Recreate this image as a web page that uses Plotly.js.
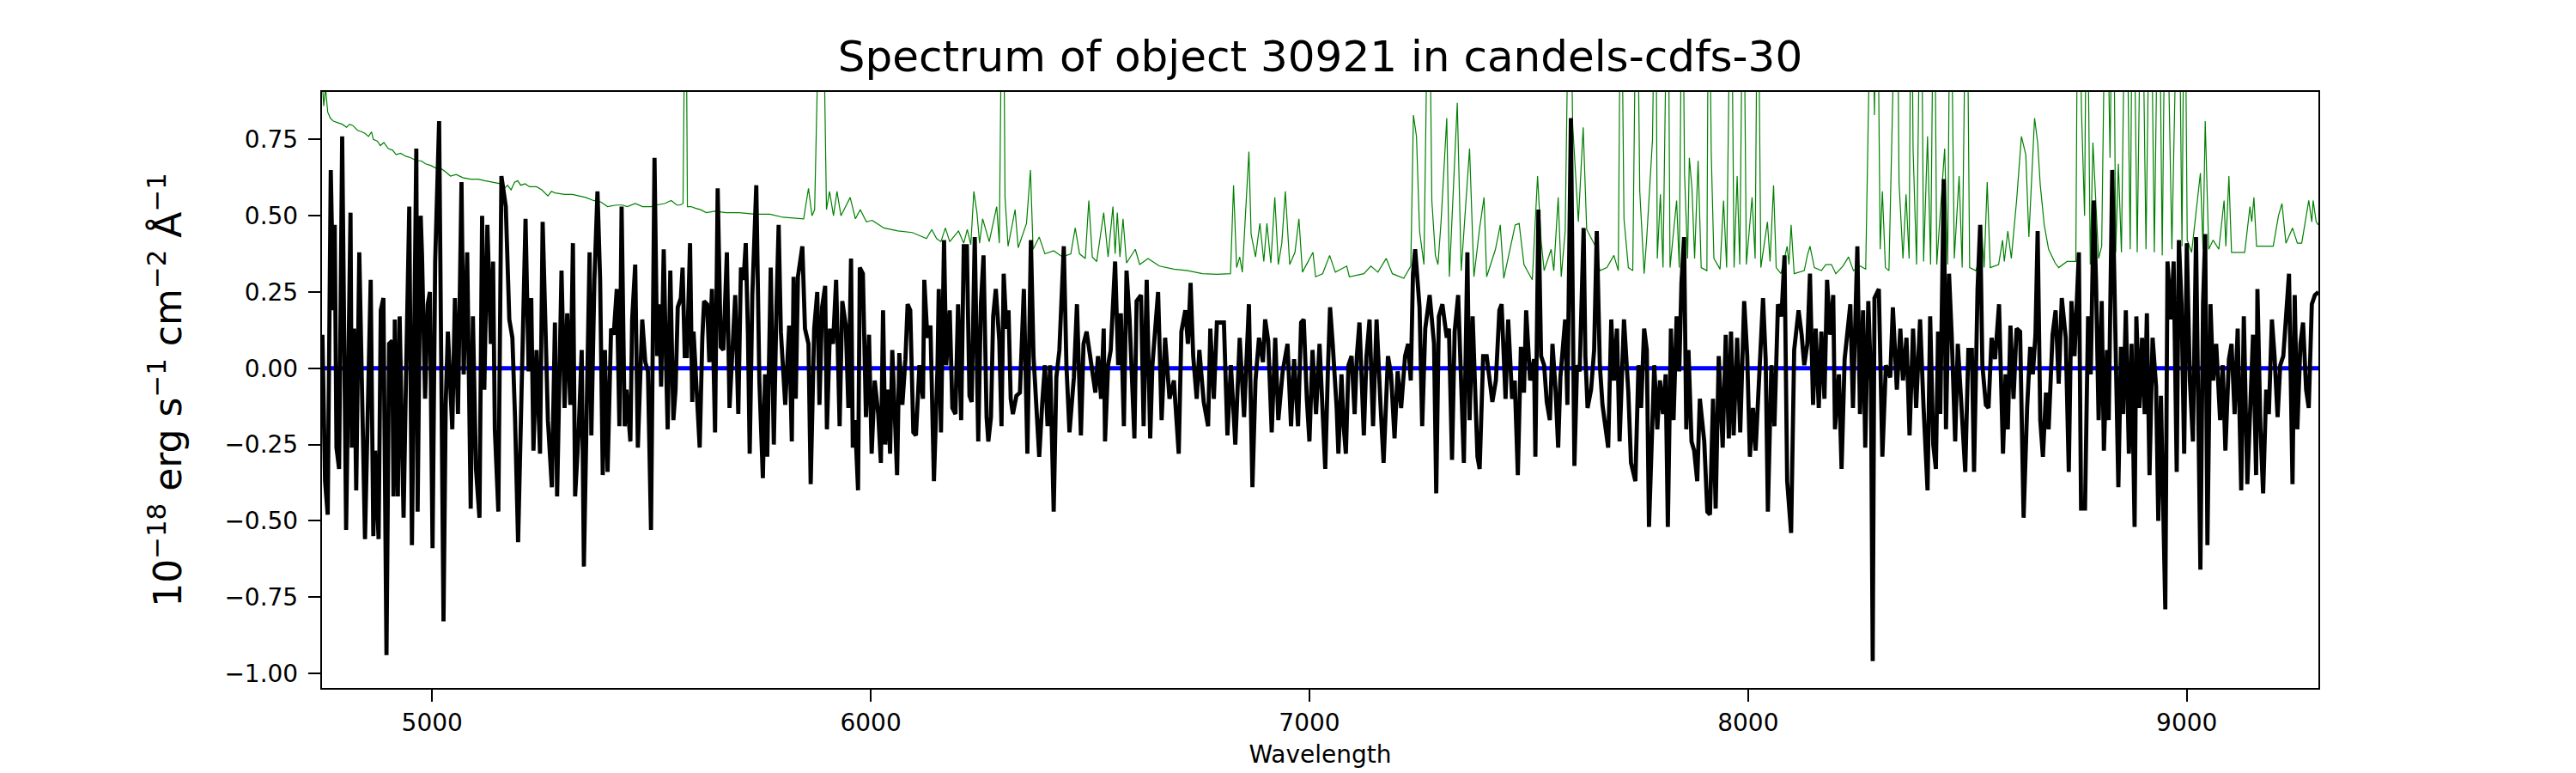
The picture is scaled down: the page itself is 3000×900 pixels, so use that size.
<!DOCTYPE html>
<html>
<head>
<meta charset="utf-8">
<script src="https://cdn.plot.ly/plotly-3.0.1.min.js"></script>
<style>
  html, body { margin: 0; padding: 0; background: #fff; }
  #spec { width: 3000px; height: 900px; }
</style>
</head>
<body>
<div id="spec"></div>
<script>
var blackWave = [
  4750,4756,4762,4769,4775,4778,4782,4788,4795,4804,
  4814,4817,4822,4827,4834,4840,4847,4860,4866,4870,
  4878,4883,4889,4896,4902,4909,4912,4915,4922,4926,
  4935,4941,4948,4954,4964,4967,4974,4977,4984,4990,
  4995,5001,5007,5016,5026,5031,5036,5046,5052,5059,
  5067,5072,5080,5088,5093,5100,5108,5114,5119,5126,
  5134,5139,5143,5151,5158,5168,5176,5183,5189,5196,
  5202,5213,5220,5226,5231,5238,5246,5252,5258,5264,
  5273,5280,5285,5295,5302,5308,5315,5321,5326,5334,
  5341,5346,5359,5363,5370,5377,5383,5389,5394,5400,
  5408,5414,5421,5427,5432,5439,5443,5452,5456,5463,
  5469,5479,5486,5492,5499,5507,
  5513,5518,5522,5528,5533,5537,5543,5550,5555,5560,
  5567,5571,5576,5581,5588,5593,5596,5601,5606,5610,
  5616,5620,5627,5632,5638,5645,5651,5658,5664,5672,
  5678,5683,5691,5698,5704,5710,5715,5720,5724,5730,
  5739,5746,5754,5759,5764,5772,5779,5785,5790,5795,
  5805,5814,5820,5824,5829,5834,5844,5850,5858,5863,
  5871,5878,5883,5889,5896,5900,5907,5914,5921,5929,
  5935,5943,5949,5955,5959,5964,5971,5975,5982,5989,
  5996,6002,6009,6017,6023,6028,6033,6039,6044,6049,
  6056,6060,6065,6072,6079,6084,6090,6097,6103,6111,
  6119,6122,6129,6136,6144,6152,6155,6160,6167,6172,
  6180,6186,6193,6199,6206,6212,6219,6225,6230,6237,
  6245,6251,6257,6264,6268,
  6274,6279,6285,6293,6298,6303,6309,6314,6319,6324,
  6332,6340,6349,6357,6365,6371,6378,6384,6391,6397,
  6403,6409,6417,6423,6430,6440,6446,6453,6463,6470,
  6479,6485,6492,6502,6512,6518,6525,6531,6534,6541,
  6547,6557,6564,6570,6577,6583,6590,6601,6606,6616,
  6622,6629,6637,6642,6648,6655,6663,6671,6681,6691,
  6702,6708,6717,6723,6729,6735,6743,6749,6759,6769,
  6774,6782,6789,6796,6805,6813,6821,6831,6841,6851,
  6862,6870,6877,6885,6894,6899,6906,6914,6922,6929,
  6939,6950,6958,6965,6974,6981,6987,6994,7000,7007,
  7015,7023,
  7036,7042,7047,7053,7062,7066,7073,7078,7083,7089,
  7096,7103,7108,7114,7124,7130,7137,7145,7153,7162,
  7169,7179,7186,7194,7201,7209,7218,7225,7231,7236,
  7241,7251,7257,7264,7274,7284,7289,7295,7303,7313,
  7318,7325,7331,7339,7344,7352,7360,7365,7372,7378,
  7383,7388,7396,7404,7412,7417,7425,7433,7438,7447,
  7453,7462,7468,7475,7482,7489,7494,7503,7512,7515,
  7522,7528,7535,7541,7548,7554,7561,7567,7572,7583,
  7588,7596,7604,7610,7616,7625,7629,7634,7642,7649,
  7655,7662,7668,7675,7681,7688,7694,7701,7707,7717,
  7727,7733,7743,7750,7756,7763,7769,7774,7782,
  7786,7793,7799,7806,7812,7817,7824,7830,7837,7843,
  7848,7854,7859,7864,7871,7877,7884,7890,7900,7907,
  7913,7920,7926,7933,7942,7949,7956,7961,7967,7975,
  7982,7991,7998,8004,8011,8017,8024,8034,8040,8045,
  8053,8060,8068,8076,8083,8089,8098,8105,8115,8122,
  8128,8135,8141,8148,8154,8161,8167,8174,8180,8187,
  8194,8198,8207,8213,8220,8233,8239,8249,8255,8262,
  8267,8274,8280,8284,8288,8298,8306,8314,8324,8330,
  8339,8347,8353,8361,8368,8376,8383,8392,8400,8409,
  8415,8422,8428,8433,8438,8446,8451,8458,8464,8472,
  8478,8487,8495,8502,8510,8515,8523,8529,8534,8542,
  8548,8555,8563,8572,8581,8587,8592,8598,8605,8612,
  8620,8628,8636,8643,8649,8655,8660,8666,8672,8679,
  8685,8694,8701,8708,8715,8724,8731,8737,8744,8754,
  8759,8768,8775,8781,8788,8793,8799,8806,8811,8818,
  8822,8830,8838,8844,8850,8855,8861,8868,8874,8881,
  8885,8892,8898,8904,8909,8915,8922,8930,8935,8941,
  8951,8956,8964,8970,8977,8982,8988,8994,9000,9007,
  9014,9021,9031,9037,9042,9047,9054,9060,9067,9076,
  9082,9088,9096,9102,9109,9116,9124,9130,9138,9145,
  9151,9158,9161,9168,9174,9181,9187,9194,9200,9207,
  9213,9220,9226,9233,9241,9246,9252,9259,9265,9272,
  9278,9285,9292,9300
];
var blackFlux = [
  0.11,-0.37,-0.48,0.65,0.19,0.47,-0.26,-0.33,0.76,-0.53,
  0.51,-0.26,0.13,-0.40,0.38,-0.07,-0.56,0.29,-0.55,-0.27,
  -0.56,0.19,0.23,-0.94,0.08,0.09,-0.42,0.16,-0.42,0.17,
  -0.49,0.01,0.53,-0.58,0.72,-0.47,0.50,0.37,-0.10,0.21,
  0.25,-0.59,0.35,0.81,-0.83,-0.12,0.12,-0.20,0.23,-0.15,
  0.61,-0.02,0.38,-0.46,0.17,-0.33,-0.49,0.50,-0.07,0.47,
  0.08,0.35,-0.20,-0.47,0.63,0.53,0.16,0.10,-0.16,-0.57,
  -0.19,0.49,-0.01,0.23,-0.27,0.06,-0.28,0.48,0.16,-0.17,
  -0.39,0.15,-0.42,0.32,-0.13,0.18,-0.12,0.41,-0.42,-0.21,
  0.06,-0.65,0.38,-0.22,0.29,0.58,0.29,-0.35,0.06,-0.34,
  0.13,0.11,0.26,-0.19,0.53,-0.19,-0.07,-0.24,0.16,0.34,
  -0.26,0.16,0.02,-0.01,-0.53,0.69,
  0.04,0.21,-0.06,0.39,0.04,-0.20,0.32,-0.17,-0.07,0.20,
  0.23,0.33,0.04,0.04,0.41,-0.11,0.12,-0.04,-0.16,-0.26,
  0.10,0.22,0.21,0.02,0.26,-0.21,0.59,0.07,0.06,0.38,
  -0.13,0.04,0.24,-0.15,0.33,0.29,0.41,0.11,-0.28,0.24,
  0.60,-0.04,-0.36,-0.02,-0.29,0.33,-0.25,0.20,0.47,0.12,
  -0.12,0.14,-0.24,0.30,-0.10,0.30,0.40,0.13,0.08,-0.38,
  0.13,0.25,-0.12,0.20,0.27,-0.20,0.13,0.08,0.29,-0.19,
  0.22,0.14,-0.13,0.36,-0.26,-0.17,-0.40,0.33,0.31,-0.16,
  0.11,-0.28,-0.04,-0.15,-0.31,0.19,-0.25,-0.07,-0.28,0.06,
  -0.22,-0.35,0.05,-0.12,0.03,0.21,0.19,-0.21,-0.22,0.01,
  -0.10,0.29,0.10,0.14,-0.37,0.00,0.26,-0.21,0.42,0.01,
  0.19,-0.13,-0.15,0.21,-0.17,0.40,0.40,-0.09,-0.11,0.43,
  -0.24,0.21,0.37,-0.16,-0.24,
  -0.16,0.17,0.26,0.09,-0.19,0.31,0.13,0.19,-0.10,-0.15,
  -0.09,-0.08,0.26,-0.28,0.42,0.04,-0.13,-0.29,-0.11,0.01,
  -0.19,0.01,-0.47,-0.03,0.06,0.40,0.01,-0.21,-0.03,0.21,
  -0.22,0.08,0.12,0.03,-0.08,0.04,-0.10,0.13,-0.24,0.01,
  0.06,0.35,0.01,0.18,-0.19,0.32,0.16,-0.23,0.22,0.24,
  -0.19,0.29,-0.23,0.01,0.11,0.25,-0.17,0.10,-0.10,-0.04,
  -0.28,0.12,0.19,0.08,0.28,0.04,-0.10,0.06,-0.11,-0.19,
  0.13,-0.10,0.15,0.15,0.15,-0.22,0.01,-0.25,0.10,-0.16,
  0.21,-0.39,-0.04,0.10,0.02,0.16,0.09,-0.21,0.10,-0.17,
  -0.01,0.08,-0.19,0.03,-0.19,0.15,0.16,-0.10,-0.24,0.06,
  -0.15,0.08,
  -0.33,-0.01,0.20,0.08,-0.13,-0.28,-0.02,-0.19,-0.28,0.01,
  0.04,-0.15,0.04,0.15,-0.22,0.04,0.16,-0.19,0.16,-0.12,
  -0.31,0.04,-0.02,-0.23,-0.01,-0.13,0.04,0.08,-0.04,0.31,
  0.39,0.20,-0.19,0.13,0.24,0.08,-0.41,0.17,0.21,0.10,
  0.13,-0.30,0.12,0.24,0.01,-0.31,0.38,-0.17,0.17,-0.06,
  -0.29,-0.33,0.04,0.04,-0.07,-0.11,-0.04,0.19,0.21,-0.10,
  0.16,-0.10,-0.04,-0.35,0.07,-0.08,0.19,-0.04,0.03,-0.29,
  0.52,0.04,0.01,-0.11,-0.17,0.08,-0.07,-0.26,-0.03,0.16,
  -0.12,0.82,-0.32,0.01,-0.01,0.46,0.04,-0.13,-0.07,0.06,
  0.45,0.01,-0.12,-0.19,-0.26,0.16,-0.04,0.13,-0.24,0.16,
  -0.08,-0.31,-0.37,0.01,-0.13,0.13,0.06,-0.52,-0.22,
  0.01,-0.20,-0.04,-0.15,-0.02,-0.52,0.13,-0.17,0.17,-0.01,
  0.28,0.43,-0.20,0.06,-0.24,-0.27,-0.37,-0.10,-0.24,-0.47,
  -0.48,-0.10,-0.46,0.04,-0.26,0.11,-0.23,0.12,-0.22,0.10,
  -0.21,0.22,0.04,-0.29,-0.13,-0.27,-0.04,0.23,0.03,-0.47,
  0.01,-0.19,0.21,0.17,0.37,-0.37,-0.54,0.06,0.19,0.11,
  0.01,0.08,0.31,-0.12,0.13,-0.13,0.12,-0.10,0.29,0.11,
  0.24,-0.20,-0.02,-0.33,0.03,0.21,-0.13,0.40,-0.15,0.19,
  -0.26,0.22,-0.04,-0.96,0.23,0.26,-0.29,0.01,-0.03,0.20,
  -0.07,0.13,-0.04,0.10,-0.22,0.13,-0.13,0.16,-0.13,-0.40,
  0.17,-0.25,-0.33,0.12,-0.15,0.62,-0.20,0.31,0.11,-0.24,
  0.08,-0.12,-0.34,0.06,0.06,-0.34,0.26,0.47,0.01,-0.12,
  -0.13,0.10,0.03,0.21,-0.28,-0.02,-0.20,0.14,-0.10,0.13,
  0.12,-0.49,-0.13,0.07,-0.02,0.11,0.45,-0.17,-0.29,-0.08,
  -0.20,0.11,0.19,-0.05,0.23,0.10,-0.34,0.22,0.04,0.38,
  -0.46,-0.46,0.17,-0.02,0.55,0.29,-0.17,0.22,-0.27,0.06,
  -0.17,0.65,0.02,-0.39,0.07,-0.15,0.19,-0.28,0.08,-0.52,
  0.17,-0.13,0.10,-0.15,0.18,-0.35,0.10,-0.06,-0.50,-0.09,
  -0.79,0.35,0.16,0.35,-0.34,0.42,0.21,-0.28,0.41,-0.04,
  -0.24,0.43,-0.66,0.21,0.44,-0.58,0.21,-0.04,0.08,-0.17,
  0.01,-0.27,0.03,0.08,-0.15,0.13,-0.40,0.17,-0.38,-0.06,
  0.11,-0.35,0.26,-0.20,-0.41,-0.07,-0.15,0.16,0.04,-0.16,
  0.01,0.04,0.19,0.31,-0.38,0.24,-0.20,0.08,0.15,-0.07,
  -0.13,0.21,0.24,0.25
];

// sky / noise spectrum (green)
var skyWave = [
  4750,4753,4757,4762,4768,4775,4785,4795,4805,4812,
  4820,4830,4840,4847,4855,4862,4866,4875,4882,4890,
  4900,4910,4918,4928,4940,4952,4964,4975,4985,4997,
  5010,5020,5030,5042,5055,5070,5088,5105,5120,5140,
  5155,5165,5172,5180,5188,5195,5202,5212,5222,5238,
  5250,5264,5272,5280,5303,5320,5335,5350,5368,5385,
  5400,5420,5434,5445,5463,5480,5499,
  5510,5530,5545,5558,5565,5572,5575,5578,5582,5590,
  5600,5612,5625,5645,5670,5700,5736,5770,5800,5847,
  5858,5866,5872,5880,5885,5892,5895,5899,5906,5915,
  5923,5932,5953,5965,5976,5990,6003,6030,6062,6095,
  6127,6139,6150,6160,6170,6180,6200,6212,6220,6228,
  6235,6242,6248,6255,6262,
  6270,6287,6293,6299,6303,6306,6313,6329,6336,6355,
  6364,6370,6384,6397,6417,6437,6456,6466,6476,6489,
  6497,6505,6515,6531,6541,6552,6557,6562,6568,6575,
  6583,6603,6613,6632,6658,6691,6723,6756,6789,6820,
  6827,6834,6841,6847,6862,6867,6877,6887,6896,6903,
  6912,6921,6929,6937,6945,6955,6967,6976,6984,7008,
  7014,7030,
  7046,7059,7085,7091,7124,7140,7156,7175,7189,7215,
  7231,7237,7244,7251,7261,7272,7279,7287,7293,7300,
  7313,7319,7326,7337,7346,7355,7365,7375,7388,7398,
  7404,7424,7435,7443,7469,7478,7489,7508,7520,7528,
  7535,7551,7557,7567,7574,7583,7593,7600,7613,7624,
  7632,7652,7662,7678,7694,7704,7710,7717,7727,7737,
  7746,7753,7763,7769,7776,7782,7789,
  7793,7800,7806,7817,7822,7837,7843,7850,7855,7862,
  7866,7872,7878,7886,7893,7906,7910,7916,7922,7936,
  7944,7951,7961,7968,7975,7981,7989,7996,8009,8016,
  8022,8029,8044,8050,8058,8064,8075,8089,8093,8098,
  8105,8128,8135,8141,8151,8167,8177,8190,8200,8216,
  8229,8240,8255,8268,8275,8282,8288,8294,8301,8306,
  8313,8321,8339,8344,8353,8360,8367,8372,8376,8384,
  8394,8400,8409,8416,8424,8430,8448,8455,8461,8470,
  8481,8488,8498,8505,8519,8526,8532,8538,8545,
  8552,8571,8580,8584,8592,8600,8612,8623,8633,8640,
  8650,8653,8660,8666,8675,8685,8700,8708,8727,8747,
  8752,8760,8767,8772,8780,8786,8799,8806,8816,8825,
  8832,8838,8844,8851,8861,8871,8877,8887,8897,8907,
  8917,8926,8936,8944,8952,8966,8981,8989,8995,9001,
  9011,9031,9037,9042,9050,9060,9073,9085,9089,9096,
  9102,9132,9144,9148,9153,9159,9197,9209,9217,9226,
  9241,9252,9262,9278,9285,9288,9295,9300
];
var skyFlux = [
  0.93,0.86,0.92,0.84,0.82,0.81,0.805,0.80,0.79,0.80,
  0.795,0.78,0.775,0.77,0.76,0.775,0.75,0.745,0.73,0.74,
  0.72,0.715,0.70,0.705,0.695,0.69,0.68,0.68,0.67,0.665,
  0.655,0.655,0.645,0.63,0.635,0.625,0.62,0.62,0.615,0.61,
  0.605,0.59,0.60,0.585,0.61,0.615,0.60,0.605,0.595,0.595,
  0.585,0.565,0.58,0.575,0.57,0.57,0.565,0.56,0.55,0.545,
  0.53,0.535,0.535,0.53,0.54,0.53,0.53,
  0.535,0.54,0.55,0.535,0.535,0.54,1.2,1.5,0.53,0.53,
  0.525,0.52,0.51,0.515,0.51,0.51,0.505,0.505,0.495,0.49,
  0.59,0.50,0.52,1.3,1.4,1.2,0.85,0.52,0.58,0.50,
  0.58,0.50,0.56,0.49,0.52,0.48,0.485,0.46,0.45,0.445,
  0.425,0.455,0.425,0.415,0.46,0.415,0.45,0.41,0.455,0.405,
  0.58,0.51,0.41,0.49,0.455,
  0.415,0.53,0.41,1.3,1.2,0.56,0.40,0.52,0.395,0.475,
  0.65,0.39,0.43,0.375,0.385,0.365,0.375,0.46,0.375,0.36,
  0.55,0.365,0.35,0.51,0.365,0.53,0.375,0.51,0.365,0.49,
  0.345,0.39,0.34,0.36,0.335,0.325,0.32,0.31,0.308,0.31,
  0.60,0.33,0.365,0.315,0.71,0.44,0.365,0.475,0.35,0.475,
  0.345,0.56,0.34,0.41,0.58,0.34,0.38,0.49,0.315,0.38,
  0.30,0.31,
  0.37,0.315,0.335,0.30,0.31,0.335,0.315,0.36,0.31,0.295,
  0.335,0.83,0.76,0.45,0.34,1.5,0.55,0.37,0.34,0.48,
  0.82,0.30,0.52,0.87,0.32,0.51,0.72,0.30,0.46,0.56,
  0.30,0.39,0.47,0.295,0.47,0.475,0.34,0.29,0.63,0.42,
  0.32,0.39,0.32,0.56,0.30,0.45,1.5,0.80,0.48,0.79,
  0.455,0.40,0.32,0.33,0.37,0.32,1.5,0.49,0.33,0.32,
  1.5,0.58,0.31,0.43,0.60,0.75,1.5,
  0.36,0.57,0.33,1.5,0.33,0.55,0.33,1.5,0.64,0.36,
  0.69,0.59,0.36,0.68,0.33,0.32,1.5,0.70,0.36,0.325,
  0.55,0.33,1.5,0.33,0.63,0.34,1.5,0.34,0.56,0.36,
  1.5,0.33,0.48,0.35,0.60,0.33,0.31,0.40,0.34,0.47,
  0.31,0.32,0.37,0.40,0.33,0.32,0.34,0.34,0.31,0.335,
  0.365,0.32,0.335,0.325,0.81,1.5,0.83,1.5,0.39,0.58,
  0.33,0.32,1.5,0.61,0.36,0.57,0.36,1.5,0.72,0.34,
  1.5,0.35,0.76,0.34,1.5,0.34,0.72,0.34,1.5,0.36,
  0.63,0.33,1.5,0.33,0.32,0.35,0.47,0.33,0.61,
  0.33,0.34,0.42,0.35,0.45,0.36,0.55,0.76,0.70,0.43,
  0.70,0.82,0.74,0.60,0.47,0.39,0.345,0.33,0.35,0.35,
  1.5,0.84,0.50,1.5,0.34,0.74,0.36,0.40,1.5,0.69,
  1.5,0.38,0.67,0.38,1.5,0.39,1.5,0.38,1.5,0.39,
  1.5,0.38,1.5,0.37,1.5,0.39,1.5,0.40,1.5,0.42,
  0.38,0.64,0.39,0.81,0.39,0.42,0.39,0.55,0.40,0.63,
  0.38,0.38,0.53,0.48,0.56,0.40,0.40,0.50,0.54,0.41,
  0.46,0.41,0.41,0.55,0.48,0.55,0.48,0.47
];

// zero level
var zeroWave = [4749, 9300];
var zeroFlux = [0, 0];

var xTicks = [5000, 6000, 7000, 8000, 9000];
var yTicks = [-1.0, -0.75, -0.5, -0.25, 0, 0.25, 0.5, 0.75];

var sky = {
  x: skyWave, y: skyFlux, type: 'scatter', mode: 'lines',
  line: {color: '#008000', width: 1.2}, hoverinfo: 'skip'
};
var zero = {
  x: zeroWave, y: zeroFlux, type: 'scatter', mode: 'lines',
  line: {color: '#0000ff', width: 5}, hoverinfo: 'skip'
};
var obs = {
  x: blackWave, y: blackFlux, type: 'scatter', mode: 'lines',
  line: {color: '#000000', width: 4.8, shape: 'linear'}, hoverinfo: 'skip'
};

var axisFont = {family: 'DejaVu Sans', size: 28, color: '#000'};

var layout = {
  width: 3000,
  height: 900,
  autosize: false,
  showlegend: false,
  paper_bgcolor: '#fff',
  plot_bgcolor: '#fff',
  font: {family: 'DejaVu Sans', color: '#000'},
  margin: {l: 375, r: 300, t: 107, b: 99, pad: 0},
  title: {
    text: 'Spectrum of object 30921 in candels-cdfs-30',
    font: {family: 'DejaVu Sans', size: 50, color: '#000'},
    xref: 'paper', x: 0.5, xanchor: 'center',
    yref: 'container', y: 0.927, yanchor: 'middle'
  },
  xaxis: {
    range: [4749, 9300],
    tickvals: xTicks,
    tickformat: 'd',
    ticks: 'outside', ticklen: 14, tickwidth: 2, tickcolor: '#000',
    tickfont: axisFont,
    showline: true, linecolor: '#000', linewidth: 2.2, mirror: true,
    showgrid: false, zeroline: false,
    title: {text: 'Wavelength', font: axisFont, standoff: 12}
  },
  yaxis: {
    range: [-1.048, 0.906],
    tickvals: yTicks,
    tickformat: '.2f',
    ticks: 'outside', ticklen: 14, tickwidth: 2, tickcolor: '#000',
    tickfont: axisFont,
    ticklabelstandoff: 6,
    showline: true, linecolor: '#000', linewidth: 2.2, mirror: true,
    showgrid: false, zeroline: false,
    title: {
      text: '10<sup>\u221218</sup> erg s<sup>\u22121</sup> cm<sup>\u22122</sup> \u00c5<sup>\u22121</sup>',
      font: {family: 'DejaVu Sans', size: 44, color: '#000'},
      standoff: 36
    }
  }
};

Plotly.newPlot('spec', [sky, zero, obs], layout, {staticPlot: true, displayModeBar: false});
</script>
</body>
</html>
